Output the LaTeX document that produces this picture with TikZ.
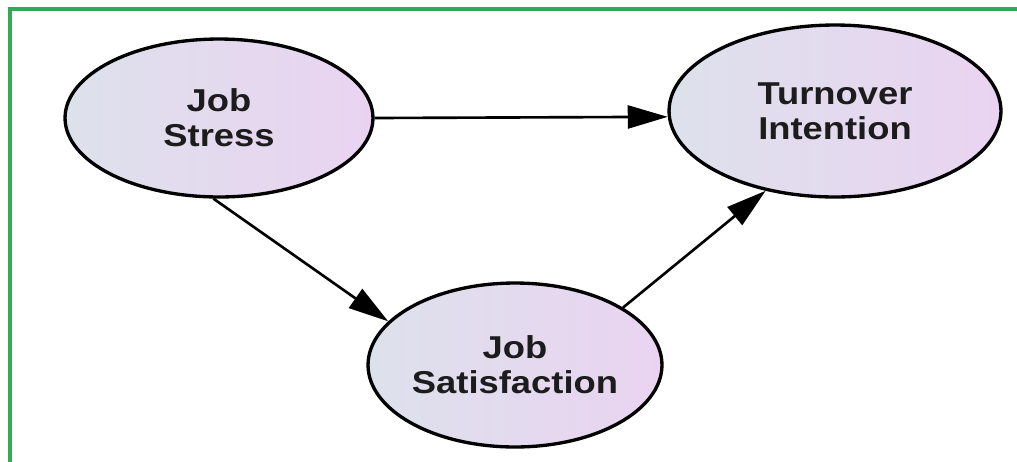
\documentclass[tikz,border=0pt]{standalone}
\usepackage{fontspec}
\setmainfont[FakeStretch=1.15]{Liberation Sans}
\usetikzlibrary{shapes.geometric,arrows.meta}

\definecolor{framegreen}{RGB}{52,170,88}
\definecolor{bubbleleft}{RGB}{221,225,236}
\definecolor{bubbleright}{RGB}{234,211,241}
\definecolor{inktext}{RGB}{28,28,28}

\begin{document}
\begin{tikzpicture}[
  x=0.02cm, y=-0.02cm,
  construct/.style={ellipse, draw=black, line width=1.9pt, inner sep=0pt,
    left color=bubbleleft, right color=bubbleright, align=center,
    text=inktext, font=\fontsize{18}{20}\selectfont\bfseries},
  path/.style={-{Triangle[length=0.8cm, width=0.46cm]}, line width=1.5pt, black},
]

% Canvas and green frame
\useasboundingbox (0,0) rectangle (1017,461);
\clip (0,0) rectangle (1017,461);
\fill[white] (0,0) rectangle (1017,461);
\draw[framegreen, line width=2.3pt] (10,9) rectangle (1080,466);

% --- Constructs ---
\node[construct, minimum width=6.16cm, minimum height=3.16cm] (stress) at (219,118) {Job\\Stress};
\node[construct, minimum width=6.64cm, minimum height=3.44cm] (turnover) at (835,111) {Turnover\\Intention};
\node[construct, minimum width=5.88cm, minimum height=3.28cm] (satisfaction) at (515,365) {Job\\Satisfaction};

% --- Paths ---
\draw[path] (stress.east) -- (turnover.182);
\draw[path] (stress.266) -- (satisfaction.161);
\draw[path] (satisfaction.28) -- (turnover.229);

\end{tikzpicture}
\end{document}
